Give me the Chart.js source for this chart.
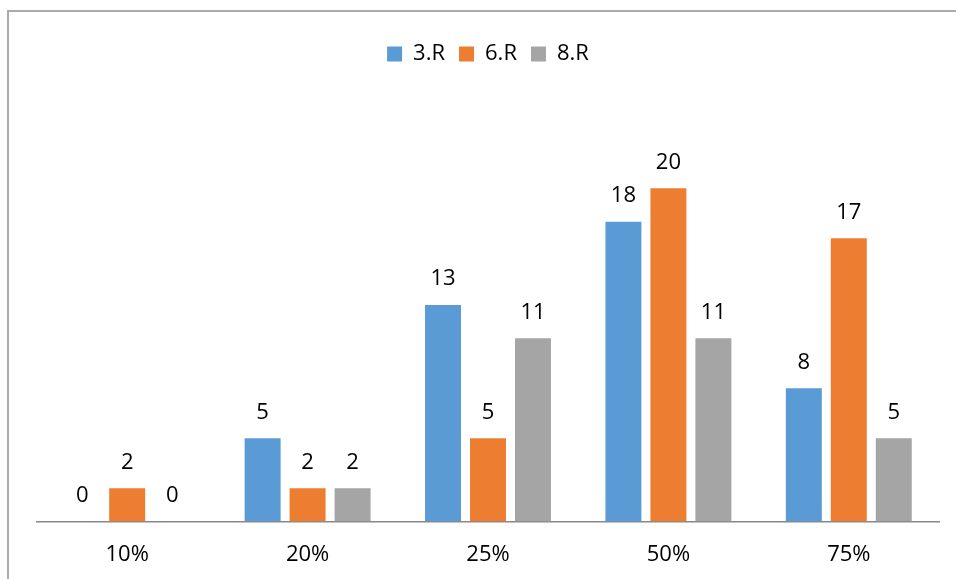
<!DOCTYPE html>
<html>
<head>
<meta charset="utf-8">
<title>Bar chart</title>
<script src="https://cdn.jsdelivr.net/npm/chart.js@4/dist/chart.umd.min.js"></script>
<style>
  html, body { margin: 0; padding: 0; background: #fff; }
  canvas { display: block; }
</style>
</head>
<body>
<canvas id="myChart" width="956" height="579"></canvas>
<script>
let categories = ['10%', '20%', '25%', '50%', '75%']
let series = ['3.R', '6.R', '8.R']
let r3 = [0, 5, 13, 18, 8]
let r6 = [2, 2, 5, 20, 17]
let r8 = [0, 2, 11, 11, 5]
let colors = ['#5B9BD5', '#ED7D31', '#A5A5A5']

const font = "'Open Sans', sans-serif"

// frame around the whole chart (right and bottom edges fall off the canvas)
const frame = {
    id: 'frame',
    beforeDraw(chart) {
        const ctx = chart.ctx
        ctx.save()
        ctx.fillStyle = '#fff'
        ctx.fillRect(0, 0, chart.width, chart.height)
        ctx.strokeStyle = '#ababab'
        ctx.lineWidth = 2
        ctx.strokeRect(8, 11, 2000, 2000)
        ctx.restore()
    }
}

// extra space between the legend and the bars
const legendGap = {
    id: 'legendGap',
    beforeInit(chart) {
        const fit = chart.legend.fit
        chart.legend.fit = function () {
            fit.bind(chart.legend)()
            this.height += 30
        }
    }
}

// value printed above every bar
const valueLabels = {
    id: 'valueLabels',
    afterDatasetsDraw(chart) {
        const ctx = chart.ctx
        ctx.save()
        ctx.font = '22px ' + font
        ctx.fillStyle = '#000'
        ctx.textAlign = 'center'
        ctx.textBaseline = 'middle'
        chart.data.datasets.forEach((ds, i) => {
            chart.getDatasetMeta(i).data.forEach((bar, j) => {
                ctx.fillText(ds.data[j], bar.x, bar.y - 26)
            })
        })
        ctx.restore()
    }
}

const data = {
    labels: categories,
    datasets: [r3, r6, r8].map((values, i) => ({
        label: series[i],
        data: values,
        backgroundColor: colors[i],
        borderWidth: 0,
        categoryPercentage: 0.748,
        barPercentage: 0.8
    }))
}

const config = {
    type: 'bar',
    data,
    options: {
        responsive: false,
        animation: false,
        layout: { padding: { left: 37, right: 17, top: 29, bottom: -9 } },
        plugins: {
            tooltip: { enabled: false },
            legend: {
                position: 'top',
                labels: {
                    boxWidth: 15,
                    boxHeight: 15,
                    padding: 14,
                    color: '#000',
                    font: { family: font, size: 22 }
                }
            }
        },
        scales: {
            x: {
                grid: { display: false, drawTicks: false },
                border: { display: true, color: '#888', width: 1.5 },
                ticks: { color: '#000', padding: 20, font: { family: font, size: 22 } }
            },
            y: {
                display: false,
                min: 0,
                max: 25
            }
        }
    },
    plugins: [frame, legendGap, valueLabels]
}

var myChart = new Chart(document.getElementById('myChart'), config)
</script>
</body>
</html>
